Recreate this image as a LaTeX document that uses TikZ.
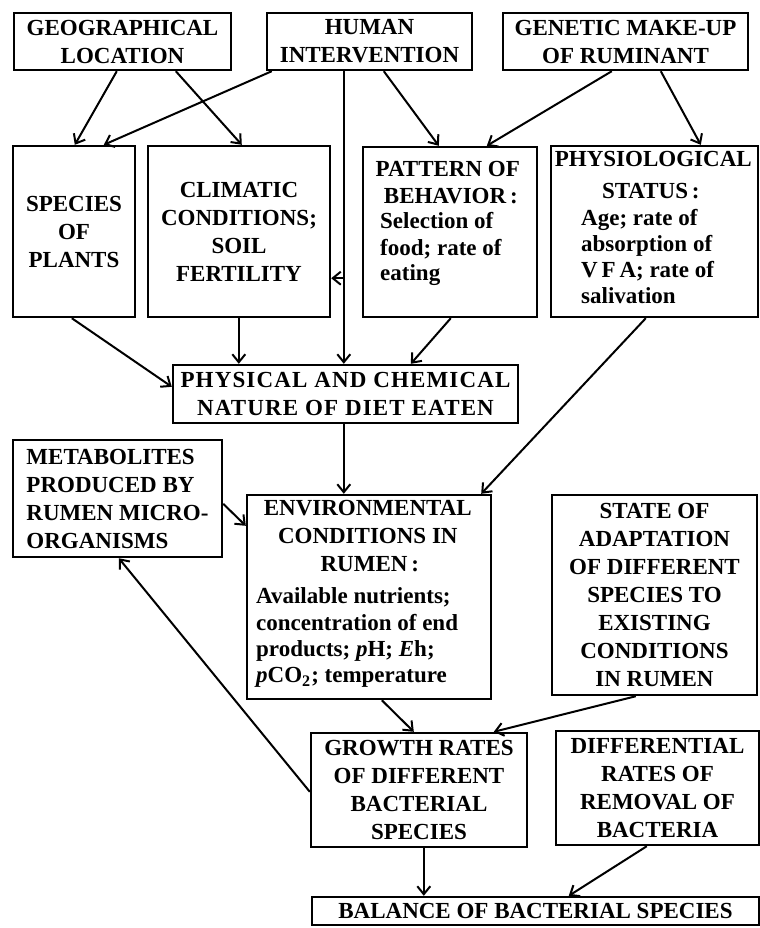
\documentclass[tikz,border=0pt]{standalone}
\usepackage{fontspec}
\setmainfont{Liberation Serif}
\newfontfamily\widefont{Liberation Serif}[LetterSpace=5]
\usetikzlibrary{arrows.meta,calc}
\begin{document}
\begin{tikzpicture}[x=0.5pt,y=-0.5pt,
  box/.style={draw,line width=1.2pt,inner sep=0pt,align=center,
    font=\fontsize{11.5}{14}\selectfont\bfseries},
  sz/.style 2 args={minimum width=#1*0.5pt,minimum height=#2*0.5pt},
  txt/.style={inner sep=0pt,font=\fontsize{11.5}{14}\selectfont\bfseries},
  arr/.style={line width=1pt,-{Straight Barb[length=4pt,width=6.5pt]}},
]
\useasboundingbox (0,0) rectangle (760,928);

% top row
\node[box,sz={217}{57}] (geo) at (122.5,41.5) {GEOGRAPHICAL\\LOCATION};
\node[box,sz={205}{57}] (human) at (369.5,41.5) {HUMAN\\INTERVENTION};
\node[box,sz={245}{57}] (gen) at (625.5,41.5) {GENETIC MAKE-UP\\OF RUMINANT};

% second row
\node[box,sz={122}{171}] (species) at (74,231.5) {SPECIES\\OF\\PLANTS};
\node[box,sz={182}{171}] (climatic) at (239,231.5) {CLIMATIC\\CONDITIONS;\\SOIL\\FERTILITY};
\node[box,sz={174}{170}] (pattern) at (450,232) {};
\node[box,sz={207}{171}] (physio) at (654.5,231.5) {};

\node[txt,anchor=base] (pat1) at ($(pattern.north west)+(86,31)$) {PATTERN OF};
\node[txt,anchor=base] (pat2) at ($(pattern.north west)+(89,58)$) {BEHAVIOR\,:};
\node[txt,anchor=base west] (pat3) at ($(pattern.north west)+(18,83)$) {Selection of};
\node[txt,anchor=base west] (pat4) at ($(pattern.north west)+(18,110)$) {food; rate of};
\node[txt,anchor=base west] (pat5) at ($(pattern.north west)+(18,135)$) {eating};

\node[txt,anchor=base] (phy1) at ($(physio.north west)+(103.5,22)$) {PHYSIOLOGICAL};
\node[txt,anchor=base] (phy2) at ($(physio.north west)+(101,54)$) {STATUS\,:};
\node[txt,anchor=base west] (phy3) at ($(physio.north west)+(31,81)$) {Age; rate of};
\node[txt,anchor=base west] (phy4) at ($(physio.north west)+(31,107)$) {absorption of};
\node[txt,anchor=base west] (phy5) at ($(physio.north west)+(31,133)$) {{\widefont V\,F\,A}; rate of};
\node[txt,anchor=base west] (phy6) at ($(physio.north west)+(31,159)$) {salivation};

% diet
\node[box,sz={345}{58},font=\fontsize{11.5}{14}\selectfont\bfseries\widefont] (physical) at (345.5,394) {PHYSICAL AND CHEMICAL\\NATURE OF DIET EATEN};

% rumen row
\node[box,sz={209}{117},align=left] (metab) at (117.5,498.5) {METABOLITES\\PRODUCED BY\\RUMEN MICRO-\\ORGANISMS};
\node[box,sz={244}{204}] (env) at (369,597) {};
\node[box,sz={205}{200}] (state) at (654.5,595) {STATE OF\\ADAPTATION\\OF DIFFERENT\\SPECIES TO\\EXISTING\\CONDITIONS\\IN RUMEN};

\node[txt,anchor=base] (env1) at ($(env.north west)+(122,22)$) {ENVIRONMENTAL};
\node[txt,anchor=base] (env2) at ($(env.north west)+(122,50)$) {CONDITIONS IN};
\node[txt,anchor=base] (env3) at ($(env.north west)+(124,78)$) {RUMEN\,:};
\node[txt,anchor=base west] (env4) at ($(env.north west)+(10,110)$) {Available nutrients;};
\node[txt,anchor=base west] (env5) at ($(env.north west)+(10,137)$) {concentration of end};
\node[txt,anchor=base west] (env6) at ($(env.north west)+(10,163)$) {products; \textit{p}H; \textit{E}h;};
\node[txt,anchor=base west] (env7) at ($(env.north west)+(10,189)$) {\textit{p}CO\textsubscript{2}; temperature};

% bacteria
\node[box,sz={216}{114}] (growth) at (419,790) {GROWTH RATES\\OF DIFFERENT\\BACTERIAL\\SPECIES};
\node[box,sz={203}{114}] (diff) at (657.5,788) {DIFFERENTIAL\\RATES OF\\REMOVAL OF\\BACTERIA};
\node[box,sz={447}{28}] (balance) at (535.5,911) {BALANCE OF BACTERIAL SPECIES};

% connectors
\draw[arr] ($(geo.south west)+(104,0)$) -- ($(species.north west)+(63,0)$);
\draw[arr] ($(geo.south west)+(163,0)$) -- ($(climatic.north west)+(95,0)$);
\draw[arr] ($(human.south west)+(6,0)$) -- ($(species.north west)+(92,0)$);
\coordinate (hx) at ($(physical.north west)+(172,0)$);
\draw[arr] (hx |- human.south) -- (hx);
\coordinate (cl) at ($(climatic.south east)+(0,-40)$);
\draw[arr] (cl -| hx) -- (cl);
\draw[arr] ($(human.south west)+(118,0)$) -- ($(pattern.north west)+(77,0)$);
\draw[arr] ($(gen.south west)+(110,0)$) -- ($(pattern.north west)+(125,0)$);
\draw[arr] ($(gen.south west)+(159,0)$) -- ($(physio.north west)+(151,0)$);
\draw[arr] ($(species.south west)+(60,0)$) -- ($(physical.north west)+(0,23)$);
\draw[arr] ($(climatic.south west)+(92,0)$) -- ($(physical.north west)+(67,0)$);
\draw[arr] ($(pattern.south west)+(89,0)$) -- ($(physical.north west)+(239,0)$);
\draw[arr] ($(physio.south west)+(96,0)$) -- ($(env.north east)+(-11,0)$);
\draw[arr] ($(physical.south west)+(172,0)$) -- ($(env.north west)+(98,0)$);
\draw[arr] ($(metab.north east)+(0,65)$) -- ($(env.north west)+(0,32)$);
\draw[arr] ($(growth.north west)+(0,60)$) -- ($(metab.south west)+(107,0)$);
\draw[arr] ($(env.south west)+(136,0)$) -- ($(growth.north west)+(104,0)$);
\draw[arr] ($(state.south west)+(85,0)$) -- ($(growth.north west)+(184,0)$);
\draw[arr] ($(growth.south west)+(114,0)$) -- ($(balance.north west)+(113,0)$);
\draw[arr] ($(diff.south west)+(92,0)$) -- ($(balance.north west)+(258,0)$);
\end{tikzpicture}
\end{document}
